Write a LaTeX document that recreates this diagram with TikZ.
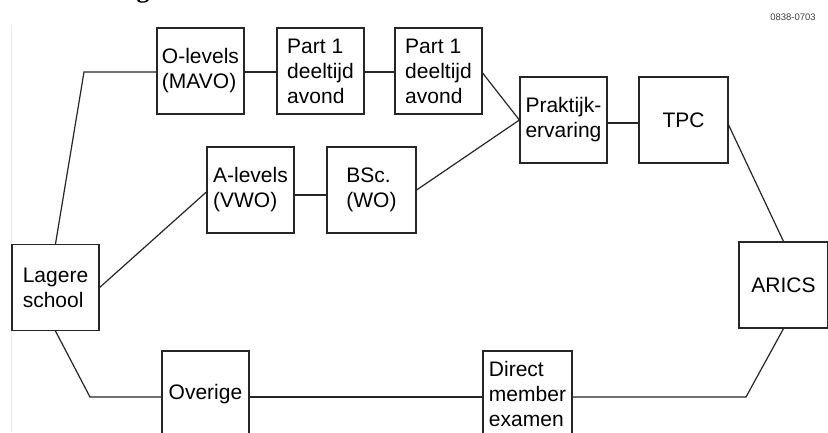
\documentclass[tikz,border=0pt]{standalone}
\usepackage{fontspec}
\setmainfont{Liberation Sans}
\newfontfamily\titlefont{Liberation Serif}
\begin{document}
\begin{tikzpicture}[x=1pt,y=-1pt,
  box/.style={draw=black!85, line width=1.2pt, minimum width=87pt, minimum height=86pt,
    inner sep=0pt, align=left, font=\fontsize{21}{25}\selectfont},
  wide/.style={minimum width=89pt},
  conn/.style={draw=black!85, line width=1.2pt}]
\useasboundingbox (0,0) rectangle (828,432);
\fill[white] (0,0) rectangle (828,432);
% partial title (cut off at top)
\node[anchor=base, inner sep=0pt, font=\titlefont\bfseries\fontsize{26}{30}\selectfont] (title) at (143,-3) {g};
% faint margin rule
\draw[black!8, line width=0.8pt] (11,25) -- (11,432);
% code label
\node[font=\fontsize{9.5}{11}\selectfont, text=black!75, inner sep=0pt] (code) at (793,17) {0838-0703};
% boxes
\node[box] (olev) at (200.5,71) {O-levels\\(MAVO)};
\node[box] (p1a) at (320.5,71) {Part 1\\deeltijd\\avond};
\node[box] (p1b) at (438.5,71) {Part 1\\deeltijd\\avond};
\node[box] (prak) at (563.5,120) {Praktijk-\\ervaring};
\node[box,wide] (tpc) at (683.5,120) {TPC};
\node[box] (alev) at (250.5,190) {A-levels\\(VWO)};
\node[box,wide] (bsc) at (371.5,190) {BSc.\\(WO)};
\node[box] (lag) at (55.5,287.5) {Lagere\\school};
\node[box] (ove) at (205.5,394) {Overige};
\node[box,wide] (dir) at (527.5,394) {Direct\\member\\examen};
\node[box,wide] (aric) at (783.5,285) {ARICS};
% bend points
\coordinate (c1) at (84,72);
\coordinate (c2) at (90,397);
\coordinate (c3) at (746,397);
% connectors
\draw[conn] (lag.north) -- (c1) -- (olev.west |- c1);
\draw[conn] (olev.east |- c1) -- (p1a.west |- c1);
\draw[conn] (p1a.east |- c1) -- (p1b.west |- c1);
\draw[conn] ([yshift=-2pt]p1b.east) -- (prak.west);
\draw[conn] (bsc.east) -- (prak.west);
\draw[conn] ([yshift=-3pt]prak.east) -- ([yshift=-3pt]tpc.west);
\draw[conn] ([yshift=-5pt]tpc.east) -- (aric.north);
\draw[conn] (lag.east) -- ([yshift=-2pt]alev.west);
\draw[conn] ([yshift=-5pt]alev.east) -- ([yshift=-5pt]bsc.west);
\draw[conn] (lag.south) -- (c2) -- (ove.west |- c2);
\draw[conn] (ove.east |- c2) -- (dir.west |- c2);
\draw[conn] (dir.east |- c2) -- (c3) -- (aric.south);
\end{tikzpicture}
\end{document}
